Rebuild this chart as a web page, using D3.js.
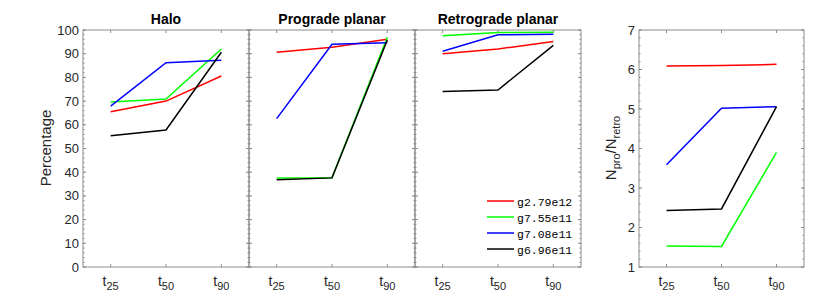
<!DOCTYPE html>
<html><head><meta charset="utf-8">
<script src="https://cdn.jsdelivr.net/npm/d3@7/dist/d3.min.js"></script>
<style>body{margin:0;background:#fff}svg{display:block}text{font-family:"Liberation Sans",Arial,sans-serif}</style>
</head><body>
<svg id="c" width="830" height="297"></svg>
<script>
const times = ["25", "50", "90"];
const seriesNames = ["g2.79e12", "g7.55e11", "g7.08e11", "g6.96e11"];
const seriesColors = ["#ff0000", "#00ff00", "#0000ff", "#000000"];
const panelTitles = ["Halo", "Prograde planar", "Retrograde planar"];
// percentage values per panel, per series, at t25/t50/t90
const halo = [[65.5, 70.0, 80.6], [69.6, 70.9, 92.0], [67.9, 86.2, 87.2], [55.4, 57.8, 90.6]];
const prograde = [[90.6, 92.7, 96.1], [37.6, 37.7, 96.9], [62.6, 94.0, 94.6], [36.8, 37.6, 95.8]];
const retrograde = [[90.0, 92.0, 95.1], [97.6, 98.9, 99.0], [91.0, 98.0, 98.2], [74.1, 74.7, 93.5]];
const ratio = [[6.09, 6.10, 6.13], [1.53, 1.52, 3.90], [3.59, 5.02, 5.06], [2.43, 2.47, 5.06]];
const pctTicks = d3.range(0, 101, 10);
const ratioTicks = d3.range(1, 8, 1);

const svg = d3.select("#c");
const plotTop = 30, plotBottom = 267;
const axisCol = "#262626", frameCol = "#8c8c8c";

function drawPanel(x0, x1, yScale, majors, minors, data, showLeftLabels) {
  const x = d3.scaleLinear().domain([0.5, 3.5]).range([x0, x1]);
  const g = svg.append("g");
  g.append("rect").attr("x", x0).attr("y", plotTop).attr("width", x1 - x0).attr("height", plotBottom - plotTop)
    .attr("fill", "none").attr("stroke", frameCol).attr("stroke-width", 1);
  minors.forEach(v => {
    const y = yScale(v);
    g.append("line").attr("x1", x0).attr("x2", x0 + 1.5).attr("y1", y).attr("y2", y).attr("stroke", frameCol);
    g.append("line").attr("x1", x1).attr("x2", x1 - 1.5).attr("y1", y).attr("y2", y).attr("stroke", frameCol);
  });
  majors.forEach(v => {
    const y = yScale(v);
    g.append("line").attr("x1", x0).attr("x2", x0 + 3).attr("y1", y).attr("y2", y).attr("stroke", frameCol);
    g.append("line").attr("x1", x1).attr("x2", x1 - 3).attr("y1", y).attr("y2", y).attr("stroke", frameCol);
    if (showLeftLabels) {
      g.append("text").attr("x", x0 - 4).attr("y", y + 4.5).attr("text-anchor", "end")
        .attr("font-size", 13).attr("fill", axisCol).text(v);
    }
  });
  [1, 2, 3].forEach((t, i) => {
    const xx = x(t);
    g.append("line").attr("x1", xx).attr("x2", xx).attr("y1", plotBottom).attr("y2", plotBottom - 3).attr("stroke", frameCol);
    g.append("line").attr("x1", xx).attr("x2", xx).attr("y1", plotTop).attr("y2", plotTop + 3).attr("stroke", frameCol);
    const tx = g.append("text").attr("x", xx).attr("y", 286).attr("text-anchor", "middle")
      .attr("font-size", 14).attr("fill", axisCol);
    tx.append("tspan").text("t");
    tx.append("tspan").attr("dy", 4).attr("font-size", 11).text(times[i]);
  });
  const line = d3.line().x((d, i) => x(i + 1)).y(d => yScale(d));
  data.forEach((s, k) => {
    g.append("path").datum(s).attr("d", line).attr("fill", "none")
      .attr("stroke", seriesColors[k]).attr("stroke-width", 1.5);
  });
  return x;
}

const yPct = d3.scaleLinear().domain([0, 100]).range([plotBottom, plotTop]);
const yRat = d3.scaleLinear().domain([1, 7]).range([plotBottom, plotTop]);
const pctMinors = d3.range(0, 101, 2);
const ratMinors = d3.range(1, 7.01, 0.2);

const edges = [83, 249, 415, 581];
const panelData = [halo, prograde, retrograde];
panelData.forEach((d, i) => {
  drawPanel(edges[i], edges[i + 1], yPct, pctTicks, pctMinors, d, i === 0);
  svg.append("text").attr("x", (edges[i] + edges[i + 1]) / 2).attr("y", 24).attr("text-anchor", "middle")
    .attr("font-size", 14).attr("font-weight", "bold").attr("fill", "#000").text(panelTitles[i]);
});
drawPanel(639, 804, yRat, ratioTicks, ratMinors, ratio, true);

svg.append("text").attr("transform", "translate(51,148) rotate(-90)").attr("text-anchor", "middle")
  .attr("font-size", 15).attr("fill", axisCol).text("Percentage");
const rl = svg.append("text").attr("transform", "translate(616,148) rotate(-90)").attr("text-anchor", "middle")
  .attr("font-size", 15).attr("fill", axisCol);
rl.append("tspan").text("N");
rl.append("tspan").attr("dy", 4).attr("font-size", 11).text("pro");
rl.append("tspan").attr("dy", -4).text("/N");
rl.append("tspan").attr("dy", 4).attr("font-size", 11).text("retro");

const legY = [201, 217, 233, 249];
seriesNames.forEach((n, k) => {
  svg.append("line").attr("x1", 487).attr("x2", 514).attr("y1", legY[k]).attr("y2", legY[k])
    .attr("stroke", seriesColors[k]).attr("stroke-width", 1.5);
  svg.append("text").attr("x", 517).attr("y", legY[k] + 4.5).attr("font-size", 11.5)
    .style("font-family", "'Liberation Mono','DejaVu Sans Mono',monospace").attr("fill", "#000").text(n);
});
</script>
</body></html>
